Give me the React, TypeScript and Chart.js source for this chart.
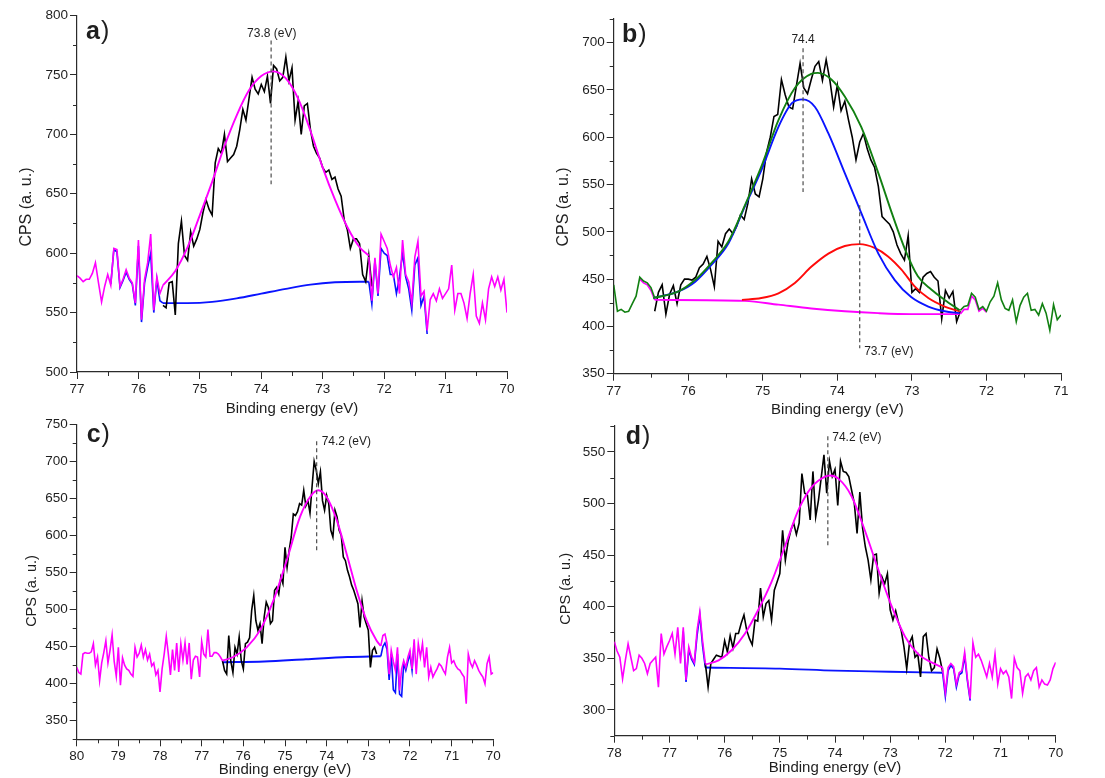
import React, { useEffect, useRef } from "react";
import { Chart, registerables } from "chart.js";

Chart.register(...registerables);

// ---------- shared ----------
const STEP = 0.05; // eV spacing of measured points
const FONT = '"Liberation Sans", Arial, Helvetica, sans-serif';
const AXIS = "#2b2b2b";
const TEXT = "#1e1e1e";
const MAGENTA = "#ff00ff";
const BLUE = "#0a14ff";
const BLACK = "#000000";
const GREEN = "#128012";
const RED = "#ff0a0a";
const DASH = "#4d4d4d";

// ---------- panel a ----------
const aXRange = [70, 77];
const aYRange = [500, 800];
const aMagLeftStart = 77.0;
const aMagLeft = [581, 579, 576, 578, 578, 583, 592, 575, 559, 572, 582, 573, 604, 603, 572, 578, 586, 579, 575, 558, 611, 544, 578, 592, 616, 552, 580, 566, 573];
const aBlackStart = 75.6;
const aBlack = [
  556, 554, 575, 576, 548, 608, 627, 598, 594, 618,
  606, 612, 620, 634, 645, 637, 632, 676, 688, 684,
  700, 677, 680, 683, 690, 704, 721, 712, 730, 748,
  738, 734, 742, 736, 749, 726, 758, 755, 745, 748,
  765, 745, 756, 712, 728, 700, 724, 726, 704, 690,
  684, 680, 672, 668, 670, 662, 664, 654, 648, 628,
  620, 604, 612, 612, 608, 582, 576, 598, 572,
];
const aMagRightStart = 72.25;
const aMagRight = [
  597, 560, 596, 566, 616, 610, 604, 590, 580, 588,
  566, 611, 582, 576, 558, 597, 610, 564, 568, 535,
  561, 566, 560, 570, 562, 566, 570, 590, 552, 566,
  566, 558, 545, 566, 582, 547, 541, 558, 544, 570,
  580, 572, 580, 569, 578, 550,
];
const aFitX = [75.6, 75.4, 75.2, 75.0, 74.8, 74.6, 74.4, 74.2, 74.0, 73.8, 73.6, 73.4, 73.2, 73.0, 72.8, 72.6, 72.4, 72.25];
const aFitY = [573, 585, 605, 632, 660, 690, 716, 737, 749, 753, 747, 730, 703, 672, 645, 622, 605, 598];
const aBaseX = [75.6, 75.2, 74.8, 74.4, 74.0, 73.6, 73.2, 72.8, 72.4, 72.25];
const aBaseY = [558, 558, 559, 562, 566, 570, 573.5, 575.5, 576, 576];
const aBlueLeftStart = 76.45;
const aBlueLeft = [574, 603, 601, 571, 577, 584, 578, 574, 556, 606, 542, 575, 588, 600, 550, 578, 560, 558];
const aBlueRightStart = 72.25;
const aBlueRight = [576, 557, 594, 564, 604, 600, 598, 582, 582, 566, 580, 600, 580, 570, 552, 590, 596, 556, 564, 532];
const aPeakLine = [73.84, 779, 658];

// ---------- panel b ----------
const bXRange = [71, 77];
const bYRange = [350, 725];
const bGreenLeftStart = 77.0;
const bGreenLeft = [444, 416, 418, 415, 416, 424, 432, 452, 448, 446, 441, 430];
const bMagLeftStart = 76.65;
const bMagLeft = [450, 446, 444, 438, 428];
const bBlackStart = 76.45;
const bBlack = [
  416, 436, 444, 413, 434, 443, 424, 444, 450, 450,
  449, 452, 462, 466, 474, 460, 442, 490, 484, 498,
  503, 498, 506, 518, 513, 530, 556, 540, 537, 556,
  584, 600, 622, 624, 661, 645, 632, 630, 654, 678,
  652, 646, 661, 675, 680, 660, 682, 660, 632, 655,
  628, 638, 618, 600, 576, 595, 604, 588, 576, 568,
  548, 516, 512, 508, 500, 486, 477, 470, 496, 436,
  440, 436, 452, 456, 458, 452, 448, 408, 438, 430,
  437, 405, 416,
];
const bGreenRightStart = 72.35;
const bGreenRight = [417, 421, 422, 435, 431, 418, 421, 416, 426, 432, 446, 428, 419, 417, 428, 405, 422, 431, 435, 417, 418, 412, 424, 414, 396, 423, 407, 412];
const bMagRightStart = 72.35;
const bMagRight = [413, 418, 418, 432, 428, 416, 419, 415];
const bSumX = [76.47, 76.13, 75.91, 75.69, 75.46, 75.24, 75.02, 74.79, 74.57, 74.35, 74.26, 74.08, 73.9, 73.68, 73.45, 73.27, 73.09, 72.92, 72.74, 72.56, 72.36];
const bSumY = [430, 437, 449, 467, 490, 528, 569, 618, 652, 667, 668, 661, 643, 611, 562, 520, 481, 453, 439, 428, 417];
const bPeak1X = [76.47, 76.13, 75.91, 75.69, 75.46, 75.24, 75.02, 74.79, 74.61, 74.46, 74.3, 74.12, 73.9, 73.68, 73.45, 73.23, 73.01, 72.78, 72.56, 72.36];
const bPeak1Y = [430, 437, 447, 465, 488, 527, 565, 611, 636, 640, 632, 604, 562, 520, 477, 449, 431, 421, 416, 414];
const bPeak2X = [75.28, 75.02, 74.79, 74.57, 74.35, 74.12, 73.9, 73.7, 73.5, 73.32, 73.14, 72.96, 72.78, 72.56, 72.36];
const bPeak2Y = [428, 430, 435, 446, 463, 477, 485, 487, 483, 474, 460, 442, 430, 421, 416];
const bBaseX = [76.45, 75.24, 74.79, 74.35, 73.9, 73.45, 73.01, 72.36];
const bBaseY = [428, 427, 423, 419, 416, 414, 413, 413];
const bPeakLine1 = [74.46, 694, 542];
const bPeakLine2 = [73.7, 528, 377];

// ---------- panel c ----------
const cXRange = [70, 80];
const cYRange = [325, 750];
const cMagLeftStart = 80.0;
const cMagLeft = [
  422, 415, 413, 440, 442, 441, 441, 443, 454, 425,
  436, 404, 428, 442, 458, 428, 445, 466, 430, 410,
  449, 398, 435, 425, 420, 418, 413, 410, 449, 436,
  441, 452, 436, 446, 432, 440, 424, 428, 412, 418,
  389, 420, 440, 464, 440, 412, 446, 418, 455, 416,
  454, 432, 455, 426, 455, 406, 432, 437, 436, 409,
  457, 440, 436, 473, 437, 437, 442, 442, 440, 436, 431,
];
const cBlackStart = 76.5;
const cBlack = [
  431, 418, 413, 465, 430, 415, 449, 440, 463, 431,
  420, 454, 456, 462, 499, 519, 485, 472, 481, 454,
  490, 510, 503, 481, 485, 526, 530, 521, 544, 535,
  584, 557, 580, 598, 629, 627, 632, 643, 641, 661,
  640, 647, 630, 666, 700, 688, 670, 686, 647, 634,
  654, 643, 607, 598, 634, 625, 607, 600, 571, 566,
  553, 544, 533, 526, 517, 508, 476, 512, 490, 481,
  472, 422, 445, 449, 440,
];
const cMagRightStart = 72.7;
const cMagRight = [
  451, 465, 467, 454, 413, 445, 430, 418, 449, 391,
  420, 431, 422, 436, 445, 420, 460, 413, 454, 436,
  454, 422, 449, 409, 422, 409, 415, 420, 427, 424,
  418, 413, 436, 449, 428, 431, 424, 420, 418, 413,
  409, 373, 440, 428, 422, 431, 425, 418, 413, 409,
  400, 427, 436, 413, 415,
];
const cBlueRightStart = 72.7;
const cBlueRight = [437, 450, 455, 446, 405, 440, 392, 388, 440, 386, 383, 428, 418, 430, 440, 418, 455];
const cFitX = [76.5, 76.24, 75.92, 75.6, 75.28, 74.96, 74.64, 74.4, 74.2, 74.0, 73.76, 73.52, 73.28, 73.04, 72.8, 72.7];
const cFitY = [431, 436, 449, 472, 512, 566, 625, 652, 661, 652, 621, 575, 526, 485, 458, 451];
const cBaseX = [76.5, 75.5, 74.5, 73.5, 72.7];
const cBaseY = [429, 430, 433, 436, 437];
const cPeakLine = [74.24, 727, 578];

// ---------- panel d ----------
const dXRange = [70, 78];
const dYRange = [275, 575];
const dMagLeftStart = 78.0;
const dMagLeft = [
  366, 357, 351, 330, 348, 364, 351, 338, 340, 353,
  350, 345, 335, 345, 348, 351, 322, 374, 354, 361,
  367, 374, 354, 380, 345, 380, 329, 361, 351, 346,
  377, 395, 367, 345,
];
const dBlackStart = 76.35;
const dBlack = [
  345, 322, 345, 349, 353, 352, 351, 367, 356, 372,
  360, 374, 374, 384, 392, 377, 369, 363, 387, 386,
  418, 390, 403, 406, 387, 416, 424, 432, 474, 445,
  463, 474, 481, 470, 481, 529, 510, 508, 484, 531,
  487, 503, 525, 547, 510, 541, 526, 533, 498, 541,
  531, 530, 526, 513, 500, 471, 511, 476, 458, 445,
  426, 450, 451, 413, 429, 422, 432, 397, 387, 396,
  385, 377, 361, 340, 365, 371, 351, 354, 332, 371,
  374, 351, 338, 341, 359, 350, 337,
];
const dMagRightStart = 72.05;
const dMagRight = [
  341, 317, 341, 345, 342, 325, 336, 338, 356, 330,
  311, 365, 351, 354, 348, 340, 332, 345, 332, 354,
  325, 340, 335, 338, 332, 311, 350, 341, 338, 316,
  332, 335, 329, 338, 341, 322, 329, 325, 324, 329,
  340, 346,
];
const dBlueLeftStart = 76.75;
const dBlueLeft = [376, 327, 358, 349, 344, 372, 392, 362, 341];
const dBlueRightStart = 72.05;
const dBlueRight = [336, 313, 338, 343, 340, 322, 334, 336, 352, 328, 309];
const dFitX = [76.35, 76.11, 75.87, 75.63, 75.39, 75.15, 74.91, 74.66, 74.42, 74.18, 74.09, 73.94, 73.7, 73.46, 73.21, 72.97, 72.73, 72.49, 72.25, 72.05];
const dFitY = [344, 348, 358, 374, 397, 424, 458, 494, 516, 526, 527, 524, 507, 474, 435, 400, 371, 354, 346, 341];
const dBaseX = [76.35, 75.0, 74.0, 73.0, 72.05];
const dBaseY = [341, 340, 338, 337, 336];
const dPeakLine = [74.13, 565, 458];

// ---------- helpers ----------
type Pt = { x: number; y: number };
const seq = (start: number, vals: number[]): Pt[] =>
  vals.map((y, i) => ({ x: Math.round((start - i * STEP) * 100) / 100, y }));
const pairs = (xs: number[], ys: number[]): Pt[] => xs.map((x, i) => ({ x, y: ys[i] }));

const noisy = (data: Pt[], color: string, width = 1.6): any => ({
  data,
  borderColor: color,
  backgroundColor: color,
  borderWidth: width,
  pointRadius: 0,
  pointHoverRadius: 0,
  tension: 0,
  fill: false,
});
const smooth = (data: Pt[], color: string, width = 1.9): any => ({
  ...noisy(data, color, width),
  cubicInterpolationMode: "monotone",
});
const dashed = (line: number[]): any => ({
  ...noisy([{ x: line[0], y: line[1] }, { x: line[0], y: line[2] }], DASH, 1.2),
  borderDash: [4, 3],
});

const isInt = (v: number) => Math.abs(v - Math.round(v)) < 1e-6;
const isMajorY = (v: number) => Math.abs(v / 50 - Math.round(v / 50)) < 1e-6;

type Label = { text: string; x: number; y: number; align: CanvasTextAlign };
type Spec = {
  key: string;
  canvas: { left: number; top: number; width: number; height: number };
  area: { l: number; t: number; r: number; b: number };
  x: number[];
  y: number[];
  datasets: any[];
  letter: string;
  letterPos: number[];
  labels: Label[];
  yTitle: { dx: number; dy: number; size: number };
  xTitleDy: number;
};

const panels: Spec[] = [
  {
    key: "a",
    canvas: { left: 0, top: 0, width: 552, height: 418 },
    area: { l: 77, t: 15.5, r: 507, b: 372 },
    x: aXRange,
    y: aYRange,
    datasets: [
      dashed(aPeakLine),
      smooth(pairs(aFitX, aFitY), MAGENTA),
      noisy(seq(aMagLeftStart, aMagLeft), MAGENTA),
      noisy(seq(aMagRightStart, aMagRight), MAGENTA),
      noisy(seq(aBlackStart, aBlack), BLACK),
      smooth(pairs(aBaseX, aBaseY), BLUE),
      noisy(seq(aBlueLeftStart, aBlueLeft), BLUE),
      noisy(seq(aBlueRightStart, aBlueRight), BLUE),
    ],
    letter: "a",
    letterPos: [9, 23.5],
    labels: [{ text: "73.8 (eV)", x: 73.83, y: 782, align: "center" }],
    yTitle: { dx: 50, dy: 13.3, size: 16 },
    xTitleDy: 37,
  },
  {
    key: "b",
    canvas: { left: 552, top: 0, width: 553, height: 418 },
    area: { l: 613.7, t: 19, r: 1061, b: 373.7 },
    x: bXRange,
    y: bYRange,
    datasets: [
      dashed(bPeakLine1),
      dashed(bPeakLine2),
      smooth(pairs(bSumX, bSumY), GREEN),
      noisy(seq(bGreenLeftStart, bGreenLeft), GREEN),
      noisy(seq(bGreenRightStart, bGreenRight), GREEN),
      smooth(pairs(bPeak1X, bPeak1Y), BLUE),
      smooth(pairs(bPeak2X, bPeak2Y), RED),
      smooth(pairs(bBaseX, bBaseY), MAGENTA),
      noisy(seq(bMagLeftStart, bMagLeft), MAGENTA),
      noisy(seq(bMagRightStart, bMagRight), MAGENTA),
      noisy(seq(bBlackStart, bBlack), BLACK),
    ],
    letter: "b",
    letterPos: [8.3, 22.7],
    labels: [
      { text: "74.4", x: 74.46, y: 699.3, align: "center" },
      { text: "73.7 (eV)", x: 73.64, y: 369.7, align: "left" },
    ],
    yTitle: { dx: 50, dy: 10.6, size: 16 },
    xTitleDy: 36.3,
  },
  {
    key: "c",
    canvas: { left: 0, top: 400, width: 552, height: 378 },
    area: { l: 76.7, t: 424.3, r: 493.3, b: 739.3 },
    x: cXRange,
    y: cYRange,
    datasets: [
      dashed(cPeakLine),
      smooth(pairs(cFitX, cFitY), MAGENTA),
      noisy(seq(cMagLeftStart, cMagLeft), MAGENTA),
      noisy(seq(cMagRightStart, cMagRight), MAGENTA),
      noisy(seq(cBlackStart, cBlack), BLACK),
      smooth(pairs(cBaseX, cBaseY), BLUE),
      noisy(seq(cBlueRightStart, cBlueRight), BLUE),
    ],
    letter: "c",
    letterPos: [10, 17.4],
    labels: [{ text: "74.2 (eV)", x: 74.12, y: 722, align: "left" }],
    yTitle: { dx: 45, dy: 9.2, size: 14.5 },
    xTitleDy: 30.7,
  },
  {
    key: "d",
    canvas: { left: 552, top: 400, width: 553, height: 378 },
    area: { l: 614.3, t: 426, r: 1055.7, b: 735.7 },
    x: dXRange,
    y: dYRange,
    datasets: [
      dashed(dPeakLine),
      smooth(pairs(dFitX, dFitY), MAGENTA),
      noisy(seq(dMagLeftStart, dMagLeft), MAGENTA),
      noisy(seq(dMagRightStart, dMagRight), MAGENTA),
      noisy(seq(dBlackStart, dBlack), BLACK),
      smooth(pairs(dBaseX, dBaseY), BLUE),
      noisy(seq(dBlueLeftStart, dBlueLeft), BLUE),
      noisy(seq(dBlueRightStart, dBlueRight), BLUE),
    ],
    letter: "d",
    letterPos: [11.4, 18],
    labels: [{ text: "74.2 (eV)", x: 74.05, y: 560, align: "left" }],
    yTitle: { dx: 48.6, dy: 8, size: 14.5 },
    xTitleDy: 32.6,
  },
];

function drawDecor(chart: any, spec: Spec) {
  const { ctx, chartArea: ca } = chart;
  const xs = chart.scales.x;
  const ys = chart.scales.y;
  ctx.save();
  // minor ticks
  ctx.strokeStyle = AXIS;
  ctx.lineWidth = 1;
  ctx.beginPath();
  for (const t of ys.ticks) {
    if (!isMajorY(t.value)) {
      const y = Math.round(ys.getPixelForValue(t.value)) + 0.5;
      ctx.moveTo(ca.left - 4, y);
      ctx.lineTo(ca.left, y);
    }
  }
  for (const t of xs.ticks) {
    if (!isInt(t.value)) {
      const x = Math.round(xs.getPixelForValue(t.value)) + 0.5;
      ctx.moveTo(x, ca.bottom);
      ctx.lineTo(x, ca.bottom + 4);
    }
  }
  ctx.stroke();

  ctx.fillStyle = TEXT;
  // x title
  ctx.font = `15px ${FONT}`;
  ctx.textAlign = "center";
  ctx.textBaseline = "middle";
  ctx.fillText("Binding energy (eV)", (ca.left + ca.right) / 2, ca.bottom + spec.xTitleDy);
  // y title
  ctx.save();
  ctx.translate(ca.left - spec.yTitle.dx, (ca.top + ca.bottom) / 2 + spec.yTitle.dy);
  ctx.rotate(-Math.PI / 2);
  ctx.font = `${spec.yTitle.size}px ${FONT}`;
  ctx.fillText("CPS (a. u.)", 0, 0);
  ctx.restore();
  // panel letter
  ctx.textAlign = "left";
  ctx.textBaseline = "alphabetic";
  const lx = ca.left + spec.letterPos[0];
  const ly = ca.top + spec.letterPos[1];
  ctx.font = `bold 25px ${FONT}`;
  ctx.fillText(spec.letter, lx, ly);
  const w = ctx.measureText(spec.letter).width;
  ctx.font = `25px ${FONT}`;
  ctx.fillText(")", lx + w + 1, ly);
  // peak labels
  ctx.font = `12px ${FONT}`;
  for (const L of spec.labels) {
    ctx.textAlign = L.align;
    ctx.fillText(L.text, xs.getPixelForValue(L.x), ys.getPixelForValue(L.y));
  }
  ctx.restore();
}

function Panel({ spec }: { spec: Spec }) {
  const ref = useRef<HTMLCanvasElement>(null);
  useEffect(() => {
    const c = spec.canvas;
    const A = spec.area;
    const tickFont = { family: FONT, size: 13.5 };
    const decor = { id: "decor" + spec.key, afterDraw: (chart: any) => drawDecor(chart, spec) };
    const chart = new Chart(ref.current as HTMLCanvasElement, {
      type: "line",
      data: { datasets: spec.datasets },
      options: {
        responsive: false,
        animation: false,
        devicePixelRatio: 1,
        events: [],
        layout: {
          padding: { left: 0, top: A.t - c.top, right: c.left + c.width - A.r, bottom: 0 },
        },
        plugins: { legend: { display: false }, tooltip: { enabled: false } },
        scales: {
          x: {
            type: "linear",
            reverse: true,
            min: spec.x[0],
            max: spec.x[1],
            afterFit: (s: any) => {
              s.height = c.top + c.height - A.b;
            },
            ticks: {
              stepSize: 0.5,
              autoSkip: false,
              maxRotation: 0,
              padding: 2,
              color: TEXT,
              font: tickFont,
              callback: (v: any) => (isInt(Number(v)) ? String(Math.round(Number(v))) : ""),
            },
            grid: {
              drawOnChartArea: false,
              drawTicks: true,
              tickLength: 7,
              tickWidth: 1,
              tickColor: (ctx: any) => (ctx.tick && isInt(ctx.tick.value) ? AXIS : "rgba(0,0,0,0)"),
            },
            border: { display: true, color: AXIS, width: 1.2 },
          },
          y: {
            type: "linear",
            min: spec.y[0],
            max: spec.y[1],
            afterFit: (s: any) => {
              s.width = A.l - c.left;
            },
            ticks: {
              stepSize: 25,
              autoSkip: false,
              padding: 2,
              color: TEXT,
              font: tickFont,
              callback: (v: any) => (isMajorY(Number(v)) ? String(Math.round(Number(v))) : ""),
            },
            grid: {
              drawOnChartArea: false,
              drawTicks: true,
              tickLength: 7,
              tickWidth: 1,
              tickColor: (ctx: any) => (ctx.tick && isMajorY(ctx.tick.value) ? AXIS : "rgba(0,0,0,0)"),
            },
            border: { display: true, color: AXIS, width: 1.2 },
          },
        },
      } as any,
      plugins: [decor],
    });
    return () => chart.destroy();
  }, [spec]);
  const c = spec.canvas;
  return (
    <canvas
      ref={ref}
      width={c.width}
      height={c.height}
      style={{ position: "absolute", left: c.left, top: c.top, width: c.width, height: c.height }}
    />
  );
}

export default function App() {
  return (
    <div
      style={{
        position: "absolute",
        left: 0,
        top: 0,
        width: 1105,
        height: 778,
        background: "#ffffff",
        overflow: "hidden",
      }}
    >
      {panels.map((p) => (
        <Panel key={p.key} spec={p} />
      ))}
    </div>
  );
}
